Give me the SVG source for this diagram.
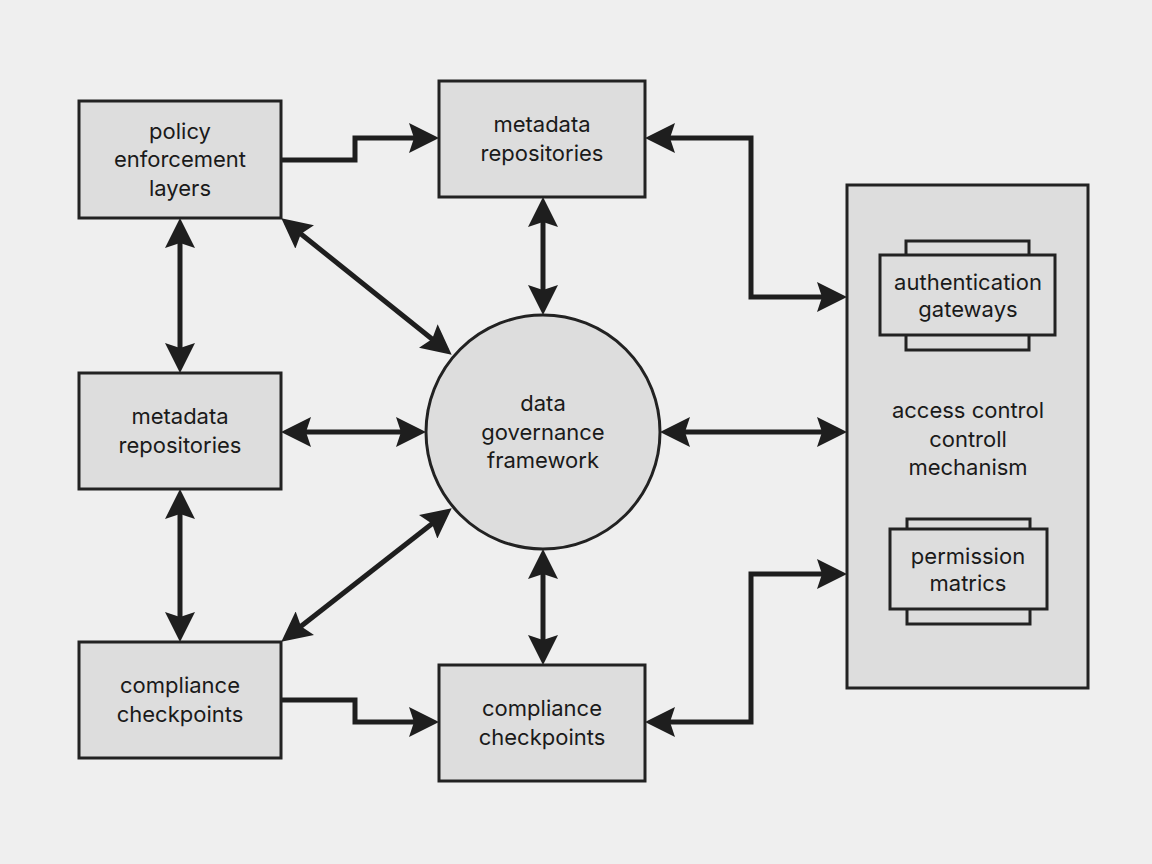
<svg xmlns="http://www.w3.org/2000/svg" width="1152" height="864" viewBox="0 0 1152 864">
<defs>
<marker id="ah" viewBox="0 0 30 30" refX="24" refY="15" markerWidth="30" markerHeight="30" markerUnits="userSpaceOnUse" orient="auto-start-reverse">
<path d="M0,0 L30,15 L0,30 L5,15 Z" fill="#1e1e1e"/>
</marker>
</defs>
<style>
.box{fill:#dddddd;stroke:#222;stroke-width:3}
.t{font-family:Inter,"Liberation Sans",sans-serif;font-size:22px;fill:#1a1a1a;text-anchor:middle}
.c{fill:none;stroke:#1e1e1e;stroke-width:5;stroke-linejoin:miter}
</style>
<rect width="1152" height="864" fill="#efefef"/>
<g id="connectors">
<polyline class="c" points="281,160 355,160 355,138 433,138" marker-end="url(#ah)"/>
<polyline class="c" points="651,138 751,138 751,297 841,297" marker-start="url(#ah)" marker-end="url(#ah)"/>
<line class="c" x1="543" y1="203" x2="543" y2="309" marker-start="url(#ah)" marker-end="url(#ah)"/>
<line class="c" x1="180" y1="224" x2="180" y2="367" marker-start="url(#ah)" marker-end="url(#ah)"/>
<line class="c" x1="286" y1="222" x2="447" y2="351" marker-start="url(#ah)" marker-end="url(#ah)"/>
<line class="c" x1="287" y1="432" x2="420" y2="432" marker-start="url(#ah)" marker-end="url(#ah)"/>
<line class="c" x1="666" y1="432" x2="841" y2="432" marker-start="url(#ah)" marker-end="url(#ah)"/>
<line class="c" x1="180" y1="495" x2="180" y2="636" marker-start="url(#ah)" marker-end="url(#ah)"/>
<line class="c" x1="447" y1="512" x2="286" y2="638" marker-start="url(#ah)" marker-end="url(#ah)"/>
<line class="c" x1="543" y1="555" x2="543" y2="659" marker-start="url(#ah)" marker-end="url(#ah)"/>
<polyline class="c" points="281,700 355,700 355,722 433,722" marker-end="url(#ah)"/>
<polyline class="c" points="651,722 751,722 751,574 841,574" marker-start="url(#ah)" marker-end="url(#ah)"/>
</g>
<g id="policy">
<rect class="box" x="79" y="101" width="202" height="117"/>
<text class="t" x="180" y="139">policy</text>
<text class="t" x="180" y="167">enforcement</text>
<text class="t" x="180" y="196">layers</text>
</g>
<g id="meta-top">
<rect class="box" x="439" y="81" width="206" height="116"/>
<text class="t" x="542" y="132">metadata</text>
<text class="t" x="542" y="161">repositories</text>
</g>
<g id="meta-left">
<rect class="box" x="79" y="373" width="202" height="116"/>
<text class="t" x="180" y="424">metadata</text>
<text class="t" x="180" y="453">repositories</text>
</g>
<g id="compliance-left">
<rect class="box" x="79" y="642" width="202" height="116"/>
<text class="t" x="180" y="693">compliance</text>
<text class="t" x="180" y="722">checkpoints</text>
</g>
<g id="compliance-bottom">
<rect class="box" x="439" y="665" width="206" height="116"/>
<text class="t" x="542" y="716">compliance</text>
<text class="t" x="542" y="745">checkpoints</text>
</g>
<g id="framework">
<circle cx="543" cy="432" r="117" fill="#dddddd" stroke="#222" stroke-width="3"/>
<text class="t" x="543" y="411">data</text>
<text class="t" x="543" y="440">governance</text>
<text class="t" x="543" y="468">framework</text>
</g>
<g id="access-control">
<rect class="box" x="847" y="185" width="241" height="503"/>
<text class="t" x="968" y="418">access control</text>
<text class="t" x="968" y="447">controll</text>
<text class="t" x="968" y="475">mechanism</text>
</g>
<g id="auth">
<rect class="box" x="906" y="241" width="123" height="109"/>
<rect class="box" x="880" y="255" width="175" height="80"/>
<text class="t" x="968" y="290">authentication</text>
<text class="t" x="968" y="317">gateways</text>
</g>
<g id="perm">
<rect class="box" x="907" y="519" width="123" height="105"/>
<rect class="box" x="890" y="529" width="157" height="80"/>
<text class="t" x="968" y="564">permission</text>
<text class="t" x="968" y="591">matrics</text>
</g>
</svg>
